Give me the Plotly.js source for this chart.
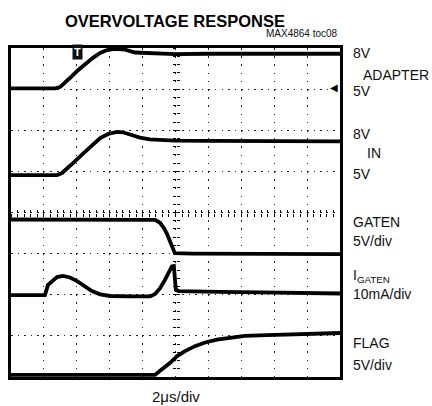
<!DOCTYPE html>
<html>
<head>
<meta charset="utf-8">
<script src="https://cdn.plot.ly/plotly-3.0.1.min.js"></script>
<style>html,body{margin:0;padding:0;background:#fff;}#chart{width:432px;height:406px;}</style>
</head>
<body>
<div id="chart"></div>
<script>
// time axis in divisions (2us/div), vertical axis in divisions (8 divs)
var adapterX = [0, 0.88, 1.34, 1.49, 1.64, 1.79, 2.01, 2.25, 2.49, 2.71, 2.92, 3.16, 3.47, 3.77, 4.23, 4.99, 6.0, 7.0, 8.0, 9.0, 10];
var adapterY = [7.02, 7.03, 7.02, 7.05, 7.15, 7.27, 7.44, 7.61, 7.76, 7.88, 7.95, 7.98, 7.96, 7.89, 7.87, 7.85, 7.86, 7.85, 7.86, 7.86, 7.86];

var inX = [0, 0.88, 1.40, 1.55, 1.70, 1.95, 2.19, 2.46, 2.71, 2.95, 3.22, 3.40, 3.62, 3.92, 4.22, 4.98, 6.0, 7.0, 8.0, 9.0, 10];
var inY = [4.91, 4.92, 4.91, 4.96, 5.08, 5.25, 5.43, 5.64, 5.81, 5.91, 5.96, 5.95, 5.90, 5.82, 5.78, 5.75, 5.74, 5.74, 5.73, 5.74, 5.73];

var gatenX = [0, 1, 2, 3, 4, 4.23, 4.38, 4.53, 4.65, 4.74, 4.83, 4.92, 4.98, 5.5, 6, 7, 8, 9, 10];
var gatenY = [3.83, 3.83, 3.82, 3.83, 3.83, 3.83, 3.82, 3.75, 3.62, 3.48, 3.28, 3.09, 3.01, 3.00, 3.00, 2.99, 3.00, 2.99, 2.99];

var igatenX = [0, 0.5, 1.03, 1.125, 1.25, 1.40, 1.58, 1.79, 2.01, 2.25, 2.46, 2.71, 3.01, 3.62, 4.23, 4.38, 4.53, 4.68, 4.83, 4.89, 4.95, 4.99, 5.01, 5.1, 5.29, 6.35, 7.57, 8.78, 10];
var igatenY = [1.99, 1.99, 1.99, 2.24, 2.33, 2.43, 2.46, 2.42, 2.33, 2.21, 2.09, 2.01, 1.97, 1.96, 1.96, 2.02, 2.16, 2.36, 2.60, 2.69, 2.70, 2.40, 2.12, 2.09, 2.09, 2.07, 2.06, 2.04, 2.03];

var flagX = [0, 1, 2, 3, 4, 4.38, 4.53, 4.68, 4.83, 5.05, 5.29, 5.59, 5.90, 6.26, 6.66, 7.11, 7.78, 8.78, 10];
var flagY = [0.05, 0.05, 0.04, 0.05, 0.05, 0.05, 0.15, 0.24, 0.34, 0.51, 0.63, 0.75, 0.84, 0.91, 0.96, 1.00, 1.02, 1.05, 1.07];

// right-hand channel labels
var labelTexts = ['8V', 'ADAPTER', '5V', '8V', 'IN', '5V', 'GATEN', '5V/div', 'I<sub>GATEN</sub>', '10mA/div', 'FLAG', '5V/div'];
var labelLevels = [7.87, 7.34, 6.95, 5.91, 5.44, 4.94, 3.78, 3.30, 2.45, 2.02, 0.82, 0.29];
var labelIndent = [0, 1, 0, 0, 2, 0, 0, 0, 0, 0, 0, 0];

var titleText = 'OVERVOLTAGE RESPONSE';
var tocText = 'MAX4864 toc08';
var xTitleText = '2\u03bcs/div';
var triggerX = 2.02, triggerY = 7.9;
var refLevelY = 7.03;

var FONT = 'Liberation Sans, Arial, sans-serif';

function trace(x, y) {
  return {x: x, y: y, type: 'scatter', mode: 'lines', line: {color: '#000', width: 3.8},
          hoverinfo: 'skip', showlegend: false, xaxis: 'x', yaxis: 'y'};
}
var data = [trace(adapterX, adapterY), trace(inX, inY), trace(gatenX, gatenY), trace(igatenX, igatenY), trace(flagX, flagY)];
// empty helpers so overlay axes (centre graticule ticks) are drawn
['x2','x3'].forEach(function(a){ data.push({x: [], y: [], xaxis: a, yaxis: 'y', type: 'scatter', showlegend: false, hoverinfo: 'skip'}); });
['y2','y3'].forEach(function(a){ data.push({x: [], y: [], xaxis: 'x', yaxis: a, type: 'scatter', showlegend: false, hoverinfo: 'skip'}); });

var indentX = [1.033, 1.064, 1.076];
var annotations = [];
for (var i = 0; i < labelTexts.length; i++) {
  annotations.push({xref: 'paper', yref: 'y', x: indentX[labelIndent[i]], y: labelLevels[i],
    xanchor: 'left', yanchor: 'middle', text: labelTexts[i], showarrow: false,
    font: {family: FONT, size: 14, color: '#111'}});
}
annotations.push({xref: 'paper', yref: 'paper', x: 1.0, y: 1.043, xanchor: 'right', yanchor: 'middle',
  text: tocText, showarrow: false, font: {family: FONT, size: 10, color: '#111'}});
annotations.push({xref: 'paper', yref: 'paper', x: 0.5, y: -0.058, xanchor: 'center', yanchor: 'middle',
  text: xTitleText, showarrow: false, font: {family: FONT, size: 15, color: '#111'}});
annotations.push({xref: 'x', yref: 'y', x: triggerX, y: triggerY, xanchor: 'center', yanchor: 'middle',
  text: '<b>T</b>', showarrow: false, bgcolor: '#111', borderpad: 1, font: {family: FONT, size: 11, color: '#fff'}});
annotations.push({xref: 'x', yref: 'y', x: 10, y: refLevelY, xanchor: 'right', yanchor: 'middle',
  text: '\u25c0', showarrow: false, font: {family: 'DejaVu Sans', size: 10, color: '#000'}});

var baseAx = {showticklabels: false, zeroline: false, ticks: '', showline: true, mirror: true,
  linewidth: 3, linecolor: '#000', showgrid: true, gridcolor: '#222', gridwidth: 1, fixedrange: true};
function centreAx(range, side, pos) {
  return {overlaying: side, anchor: 'free', position: pos, range: range, showgrid: false, zeroline: false, showline: false,
    showticklabels: false, tickmode: 'linear', tick0: 0, dtick: 0.2, ticklen: 3, tickwidth: 1, tickcolor: '#000', fixedrange: true};
}
var layout = {
  width: 432, height: 406,
  margin: {l: 11, r: 92, t: 48, b: 29, pad: 0},
  paper_bgcolor: '#fff', plot_bgcolor: '#fff',
  showlegend: false,
  title: {text: '<b>' + titleText + '</b>', xref: 'container', yref: 'container', x: 0.405, y: 0.948,
    xanchor: 'center', yanchor: 'middle', font: {family: FONT, size: 16.5, color: '#000'}},
  xaxis: Object.assign({}, baseAx, {range: [0, 10], tickmode: 'linear', tick0: 0, dtick: 1, griddash: '1.5px,6.7px'}),
  yaxis: Object.assign({}, baseAx, {range: [0, 8], tickmode: 'linear', tick0: 0, dtick: 1, griddash: '1.5px,5.08px'}),
  xaxis2: Object.assign(centreAx([0, 10], 'x', 0.5), {ticks: 'outside'}),
  xaxis3: Object.assign(centreAx([0, 10], 'x', 0.5), {ticks: 'inside'}),
  yaxis2: Object.assign(centreAx([0, 8], 'y', 0.5), {ticks: 'outside'}),
  yaxis3: Object.assign(centreAx([0, 8], 'y', 0.5), {ticks: 'inside'}),
  annotations: annotations
};
Plotly.newPlot('chart', data, layout, {staticPlot: true, displayModeBar: false});
</script>
</body>
</html>
